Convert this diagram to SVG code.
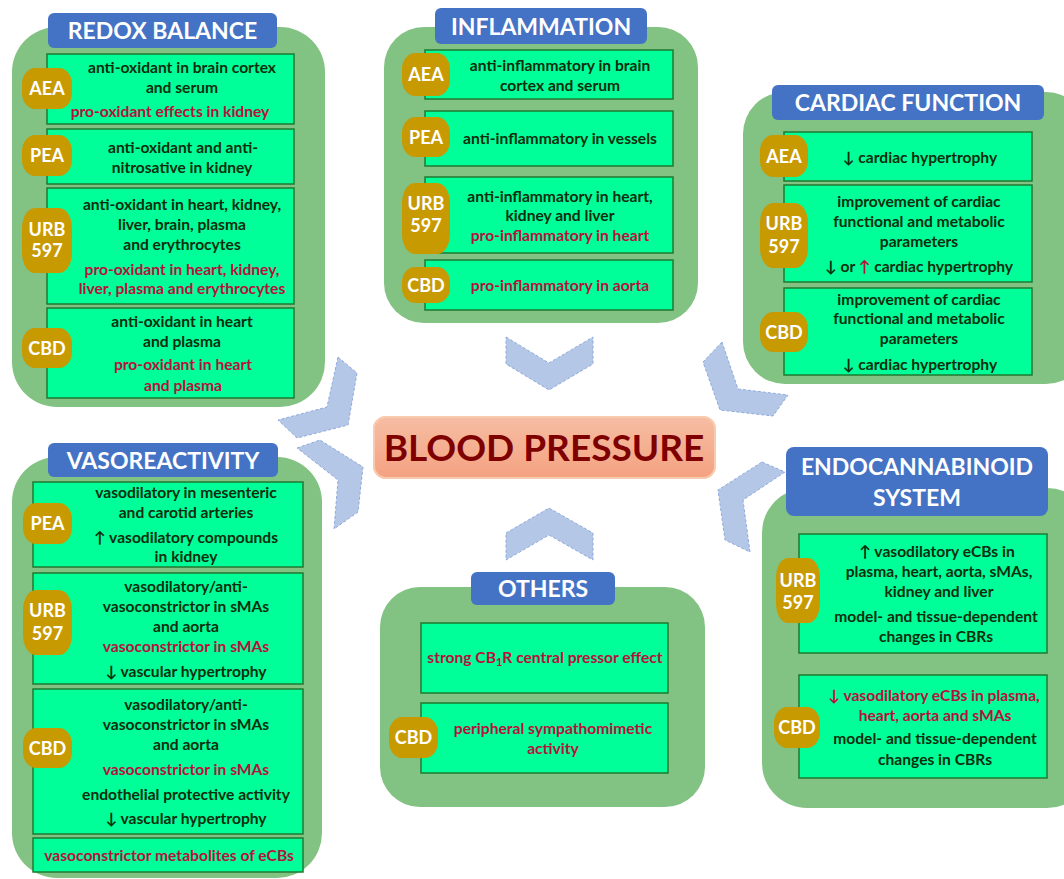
<svg xmlns="http://www.w3.org/2000/svg" width="1064" height="879" viewBox="0 0 1064 879">
<defs>
<style>
.panel{fill:#82C282}
.box{fill:#00FF99;stroke:#1F7A30;stroke-width:1.5}
.badge{fill:#C89A02}
.title{fill:#4472C4}
.tt{font-family:Lato,"DejaVu Sans",sans-serif;font-weight:bold;font-size:23px;fill:#fff;text-anchor:middle}
.bt{font-family:Lato,"DejaVu Sans",sans-serif;font-weight:bold;font-size:18px;fill:#fff;text-anchor:middle}
.t{font-family:Lato,"DejaVu Sans",sans-serif;font-weight:bold;font-size:15.6px;fill:#0D2E0D;text-anchor:middle}
.r{fill:#B8103C}
.chev{fill:#B4C7E7;stroke:#8FAADC;stroke-width:1;stroke-dasharray:3 2}
</style>
<linearGradient id="bpg" x1="0" y1="0" x2="0" y2="1">
<stop offset="0" stop-color="#F6BDA3"/>
<stop offset="1" stop-color="#F4A281"/>
</linearGradient>
<filter id="glow" x="-10%" y="-30%" width="120%" height="160%">
<feGaussianBlur in="SourceAlpha" stdDeviation="2"/>
<feFlood flood-color="#F8C9A8"/>
<feComposite operator="in" in2="SourceAlpha"/>
<feMerge><feMergeNode/><feMergeNode in="SourceGraphic"/></feMerge>
</filter>
</defs>
<rect width="1064" height="879" fill="#fff"/>

<g id="connectors">
<polygon class="chev" points="506,337 549,363 593,337 593,364 549,390 506,364"/>
<polygon class="chev" points="506,533 549,508 593,533 593,560 549,535 506,560"/>
<polygon class="chev" points="338,357 357,373 348,425 297,438 278,420 327,407"/>
<polygon class="chev" points="297,448 320,440 363,467 358,512 334,529 338,480"/>
<polygon class="chev" points="722,342 703,362 720,410 773,416 788,395 738,389"/>
<polygon class="chev" points="762,462 785,472 743,500 750,552 725,540 718,490"/>
</g>

<g id="redox">
<rect class="panel" x="12" y="27" width="313" height="380" rx="45"/>
<rect class="title" x="48" y="13" width="229" height="35" rx="6"/>
<text class="tt" x="162.5" y="38.5">REDOX BALANCE</text>
<rect class="box" x="47" y="54" width="247" height="70"/>
<rect class="box" x="47" y="129" width="247" height="55"/>
<rect class="box" x="47" y="188" width="247" height="116"/>
<rect class="box" x="47" y="308" width="247" height="90"/>
<rect class="badge" x="22" y="68" width="50" height="41" rx="13" ry="16"/>
<rect class="badge" x="22" y="135" width="50" height="41" rx="13" ry="16"/>
<rect class="badge" x="22" y="208" width="50" height="65" rx="13" ry="20"/>
<rect class="badge" x="22" y="328" width="50" height="40" rx="13" ry="16"/>
<text class="bt" x="47" y="95">AEA</text>
<text class="bt" x="47" y="162">PEA</text>
<text class="bt" x="47" y="235.5">URB</text>
<text class="bt" x="47" y="256.5">597</text>
<text class="bt" x="47" y="354.5">CBD</text>
<text class="t" x="182" y="73">anti-oxidant in brain cortex</text>
<text class="t" x="182" y="93">and serum</text>
<text class="t r" x="170" y="117">pro-oxidant effects in kidney</text>
<text class="t" x="183" y="153">anti-oxidant and anti-</text>
<text class="t" x="182" y="173">nitrosative in kidney</text>
<text class="t" x="182" y="210">anti-oxidant in heart, kidney,</text>
<text class="t" x="182" y="230">liver, brain, plasma</text>
<text class="t" x="182" y="250">and erythrocytes</text>
<text class="t r" x="182" y="275">pro-oxidant in heart, kidney,</text>
<text class="t r" x="182" y="294">liver, plasma and erythrocytes</text>
<text class="t" x="182" y="327">anti-oxidant in heart</text>
<text class="t" x="182" y="347">and plasma</text>
<text class="t r" x="183" y="370">pro-oxidant in heart</text>
<text class="t r" x="183" y="391">and plasma</text>
</g>

<g id="inflammation">
<rect class="panel" x="384" y="27" width="314" height="296" rx="40"/>
<rect class="title" x="435" y="8" width="212" height="36" rx="6"/>
<text class="tt" x="541" y="34.5">INFLAMMATION</text>
<rect class="box" x="425" y="50" width="248" height="49"/>
<rect class="box" x="425" y="111" width="248" height="55"/>
<rect class="box" x="425" y="177" width="248" height="76"/>
<rect class="box" x="425" y="260" width="248" height="50"/>
<rect class="badge" x="402" y="53" width="48" height="43" rx="13" ry="16"/>
<rect class="badge" x="402" y="117" width="48" height="40" rx="13" ry="16"/>
<rect class="badge" x="402" y="183" width="48" height="71" rx="13" ry="20"/>
<rect class="badge" x="402" y="267" width="48" height="36" rx="13" ry="15"/>
<text class="bt" x="426" y="81">AEA</text>
<text class="bt" x="426" y="143.5">PEA</text>
<text class="bt" x="426" y="209.5">URB</text>
<text class="bt" x="426" y="231.5">597</text>
<text class="bt" x="426" y="291.5">CBD</text>
<text class="t" x="560" y="71">anti-inflammatory in brain</text>
<text class="t" x="560" y="91">cortex and serum</text>
<text class="t" x="560" y="144">anti-inflammatory in vessels</text>
<text class="t" x="560" y="202">anti-inflammatory in heart,</text>
<text class="t" x="560" y="221">kidney and liver</text>
<text class="t r" x="560" y="241">pro-inflammatory in heart</text>
<text class="t r" x="560" y="291">pro-inflammatory in aorta</text>
</g>

<g id="cardiac">
<rect class="panel" x="743" y="92" width="345" height="292" rx="42"/>
<rect class="title" x="772" y="85" width="272" height="35" rx="6"/>
<text class="tt" x="908" y="111">CARDIAC FUNCTION</text>
<rect class="box" x="784" y="132" width="248" height="49"/>
<rect class="box" x="784" y="185" width="248" height="97"/>
<rect class="box" x="784" y="288" width="248" height="87"/>
<rect class="badge" x="760" y="135" width="48" height="42" rx="13" ry="16"/>
<rect class="badge" x="760" y="203" width="48" height="65" rx="13" ry="20"/>
<rect class="badge" x="760" y="312" width="48" height="40" rx="13" ry="16"/>
<text class="bt" x="784" y="162.5">AEA</text>
<text class="bt" x="784" y="229.5">URB</text>
<text class="bt" x="784" y="252.5">597</text>
<text class="bt" x="784" y="338.5">CBD</text>
<text class="t" x="920" y="163">↓ cardiac hypertrophy</text>
<text class="t" x="919" y="207">improvement of cardiac</text>
<text class="t" x="919" y="227">functional and metabolic</text>
<text class="t" x="919" y="247">parameters</text>
<text class="t" x="919" y="272">↓ or <tspan class="r">↑</tspan> cardiac hypertrophy</text>
<text class="t" x="919" y="305">improvement of cardiac</text>
<text class="t" x="919" y="324">functional and metabolic</text>
<text class="t" x="919" y="344">parameters</text>
<text class="t" x="920" y="370">↓ cardiac hypertrophy</text>
</g>

<g id="blood-pressure">
<rect x="374" y="417" width="341" height="61" rx="12" fill="url(#bpg)" stroke="#F9CBAE" stroke-width="2" filter="url(#glow)"/>
<text x="544" y="461" text-anchor="middle" font-family="Lato,'DejaVu Sans',sans-serif" font-weight="bold" font-size="37" fill="#7F0000">BLOOD PRESSURE</text>
</g>

<g id="vasoreactivity">
<rect class="panel" x="12" y="457" width="310" height="421" rx="45"/>
<rect class="title" x="48" y="443" width="230" height="34" rx="6"/>
<text class="tt" x="163" y="468.5">VASOREACTIVITY</text>
<rect class="box" x="33" y="482" width="270" height="85"/>
<rect class="box" x="33" y="573" width="270" height="111"/>
<rect class="box" x="33" y="689" width="270" height="145"/>
<rect class="box" x="33" y="838" width="270" height="34"/>
<rect class="badge" x="23" y="503" width="49" height="41" rx="13" ry="16"/>
<rect class="badge" x="23" y="590" width="49" height="65" rx="13" ry="20"/>
<rect class="badge" x="23" y="728" width="49" height="40" rx="13" ry="16"/>
<text class="bt" x="47.5" y="530">PEA</text>
<text class="bt" x="47.5" y="616.5">URB</text>
<text class="bt" x="47.5" y="639.5">597</text>
<text class="bt" x="47.5" y="754.5">CBD</text>
<text class="t" x="186" y="498">vasodilatory in mesenteric</text>
<text class="t" x="186" y="518">and carotid arteries</text>
<text class="t" x="186" y="543">↑ vasodilatory compounds</text>
<text class="t" x="186" y="562">in kidney</text>
<text class="t" x="186" y="592">vasodilatory/anti-</text>
<text class="t" x="186" y="612">vasoconstrictor in sMAs</text>
<text class="t" x="186" y="632">and aorta</text>
<text class="t r" x="186" y="652">vasoconstrictor in sMAs</text>
<text class="t" x="186" y="677">↓ vascular hypertrophy</text>
<text class="t" x="186" y="710">vasodilatory/anti-</text>
<text class="t" x="186" y="730">vasoconstrictor in sMAs</text>
<text class="t" x="186" y="750">and aorta</text>
<text class="t r" x="186" y="775">vasoconstrictor in sMAs</text>
<text class="t" x="186" y="800">endothelial protective activity</text>
<text class="t" x="186" y="824">↓ vascular hypertrophy</text>
<text class="t r" x="169" y="861">vasoconstrictor metabolites of eCBs</text>
</g>

<g id="others">
<rect class="panel" x="380" y="587" width="325" height="220" rx="40"/>
<rect class="title" x="471" y="572" width="144" height="33" rx="6"/>
<text class="tt" x="543" y="596.5">OTHERS</text>
<rect class="box" x="421" y="623" width="247" height="70"/>
<rect class="box" x="421" y="703" width="247" height="70"/>
<rect class="badge" x="389" y="717" width="49" height="41" rx="13" ry="16"/>
<text class="bt" x="413.5" y="744">CBD</text>
<text class="t r" x="545" y="663">strong CB<tspan font-size="11" dy="3">1</tspan><tspan dy="-3">R central pressor effect</tspan></text>
<text class="t r" x="553" y="734">peripheral sympathomimetic</text>
<text class="t r" x="553" y="754">activity</text>
</g>

<g id="endocannabinoid">
<rect class="panel" x="762" y="488" width="330" height="320" rx="45"/>
<rect class="title" x="786" y="447" width="262" height="69" rx="8"/>
<text class="tt" x="917" y="475">ENDOCANNABINOID</text>
<text class="tt" x="917" y="506">SYSTEM</text>
<rect class="box" x="799" y="534" width="248" height="119"/>
<rect class="box" x="799" y="675" width="248" height="103"/>
<rect class="badge" x="776" y="558" width="44" height="65" rx="12" ry="20"/>
<rect class="badge" x="774" y="707" width="46" height="41" rx="13" ry="16"/>
<text class="bt" x="798" y="586.5">URB</text>
<text class="bt" x="798" y="608.5">597</text>
<text class="bt" x="797" y="734">CBD</text>
<text class="t" x="937" y="557">↑ vasodilatory eCBs in</text>
<text class="t" x="939" y="577">plasma, heart, aorta, sMAs,</text>
<text class="t" x="939" y="597">kidney and liver</text>
<text class="t" x="936" y="622">model- and tissue-dependent</text>
<text class="t" x="936" y="642">changes in CBRs</text>
<text class="t r" x="934" y="701">↓ vasodilatory eCBs in plasma,</text>
<text class="t r" x="935" y="721">heart, aorta and sMAs</text>
<text class="t" x="935" y="744">model- and tissue-dependent</text>
<text class="t" x="935" y="765">changes in CBRs</text>
</g>
</svg>
